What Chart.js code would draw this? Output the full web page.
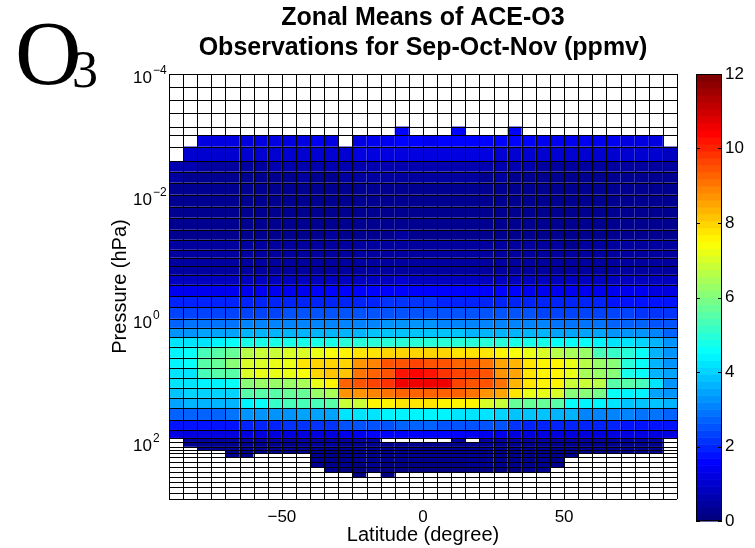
<!DOCTYPE html>
<html>
<head>
<meta charset="utf-8">
<title>Zonal Means of ACE-O3</title>
<script src="https://cdn.jsdelivr.net/npm/chart.js@4.4.0/dist/chart.umd.min.js"></script>
<style>
  html, body { margin: 0; padding: 0; background: #fff; }
  #wrap { position: relative; width: 755px; height: 548px; overflow: hidden; }
  #main { position: absolute; left: 0; top: 0; }
  #bar { position: absolute; left: 690px; top: 60px; }
</style>
</head>
<body>
<div id="wrap">
  <canvas id="main" width="755" height="548"></canvas>
  <canvas id="bar" width="65" height="475"></canvas>
</div>
<script>
const FONT = "'Liberation Sans', Arial, Helvetica, sans-serif";
const _ = null; // no observation in that bin

// latitude bin edges (degree)
const latEdges = [-90, -85, -80, -75, -70, -65, -60, -55, -50, -45, -40, -35, -30,
  -25, -20, -15, -10, -5, 0, 5, 10, 15, 20, 25, 30, 35, 40, 45, 50, 55, 60, 65, 70,
  75, 80, 85, 90];

// pressure bin edges (hPa), top of atmosphere first
const pressureEdges = [1.0e-4, 1.60e-4, 2.66e-4, 4.33e-4, 7.18e-4, 9.89e-4, 1.52e-3,
  2.63e-3, 3.89e-3, 5.89e-3, 9.24e-3, 1.45e-2, 2.19e-2, 3.44e-2, 5.01e-2, 7.29e-2,
  9.85e-2, 0.136, 0.187, 0.272, 0.418, 0.632, 0.974, 1.37, 1.95, 2.79, 4.21, 6.14,
  8.94, 13.0, 18.9, 27.6, 43.3, 63.0, 85.1, 98.9, 119, 134, 152, 174, 210, 253, 305,
  368, 444, 536, 672, 840];

// O3 mixing ratio (ppmv), one row per pressure bin, one column per latitude bin
const o3 = [
  [_,_,_,_,_,_, _,_,_,_,_,_, _,_,_,_,_,_, _,_,_,_,_,_, _,_,_,_,_,_, _,_,_,_,_,_],
  [_,_,_,_,_,_, _,_,_,_,_,_, _,_,_,_,_,_, _,_,_,_,_,_, _,_,_,_,_,_, _,_,_,_,_,_],
  [_,_,_,_,_,_, _,_,_,_,_,_, _,_,_,_,_,_, _,_,_,_,_,_, _,_,_,_,_,_, _,_,_,_,_,_],
  [_,_,_,_,_,_, _,_,_,_,_,_, _,_,_,_,_,_, _,_,_,_,_,_, _,_,_,_,_,_, _,_,_,_,_,_],
  [_,_,_,_,_,_, _,_,_,_,_,_, _,_,_,_,1.6,_, _,_,1.5,_,_,_, 1.5,_,_,_,_,_, _,_,_,_,_,_],
  [_,_,1.2,1.3,1.3,1.3, 1.3,1.3,1.3,1.3,1.4,1.3, _,1.3,1.4,1.4,1.5,1.5, 1.4,1.5,1.6,1.5,1.5,1.5, 1.6,1.5,1.4,1.4,1.4,1.4, 1.4,1.4,1.3,1.3,1.3,_],
  [_,1.1,1.0,1.0,1.0,1.0, 1.0,1.0,1.1,1.1,1.1,1.1, 1.1,1.2,1.2,1.3,1.3,1.2, 1.3,1.3,1.2,1.2,1.2,1.1, 1.1,1.1,1.0,1.0,1.0,1.0, 1.0,1.0,1.0,1.0,1.0,0.9],
  [0.6,0.6,0.55,0.55,0.55,0.55, 0.55,0.6,0.6,0.6,0.6,0.6, 0.6,0.65,0.65,0.7,0.65,0.65, 0.7,0.65,0.65,0.6,0.6,0.6, 0.6,0.6,0.55,0.55,0.55,0.55, 0.5,0.5,0.5,0.5,0.55,0.55],
  [0.4,0.35,0.35,0.3,0.3,0.35, 0.35,0.35,0.35,0.4,0.35,0.35, 0.4,0.4,0.4,0.45,0.4,0.4, 0.45,0.4,0.4,0.4,0.35,0.4, 0.35,0.35,0.35,0.35,0.35,0.3, 0.3,0.3,0.35,0.35,0.3,0.35],
  [0.35,0.3,0.3,0.3,0.25,0.3, 0.3,0.3,0.3,0.3,0.3,0.35, 0.3,0.3,0.35,0.3,0.3,0.3, 0.3,0.3,0.35,0.3,0.3,0.3, 0.3,0.3,0.25,0.3,0.3,0.3, 0.3,0.25,0.3,0.3,0.3,0.3],
  [0.3,0.25,0.25,0.25,0.2,0.25, 0.25,0.25,0.25,0.25,0.25,0.3, 0.25,0.25,0.3,0.25,0.25,0.25, 0.25,0.25,0.3,0.25,0.25,0.25, 0.25,0.25,0.2,0.25,0.25,0.25, 0.25,0.2,0.25,0.25,0.25,0.3],
  [0.25,0.25,0.2,0.25,0.25,0.25, 0.25,0.2,0.25,0.25,0.25,0.25, 0.3,0.25,0.25,0.25,0.3,0.25, 0.25,0.25,0.25,0.3,0.25,0.25, 0.25,0.2,0.25,0.25,0.25,0.25, 0.2,0.25,0.25,0.25,0.25,0.25],
  [0.3,0.3,0.3,0.25,0.3,0.3, 0.3,0.3,0.3,0.3,0.35,0.3, 0.3,0.3,0.3,0.3,0.3,0.35, 0.3,0.3,0.3,0.3,0.3,0.3, 0.3,0.3,0.3,0.25,0.3,0.3, 0.3,0.3,0.25,0.3,0.3,0.3],
  [0.35,0.35,0.35,0.3,0.35,0.35, 0.35,0.35,0.35,0.35,0.35,0.4, 0.35,0.35,0.35,0.35,0.4,0.35, 0.35,0.35,0.35,0.35,0.35,0.35, 0.35,0.35,0.35,0.3,0.35,0.35, 0.35,0.3,0.35,0.35,0.35,0.35],
  [0.45,0.45,0.4,0.4,0.4,0.4, 0.4,0.4,0.4,0.45,0.4,0.4, 0.4,0.4,0.4,0.45,0.4,0.4, 0.4,0.4,0.4,0.4,0.4,0.4, 0.4,0.4,0.4,0.4,0.35,0.4, 0.4,0.4,0.4,0.4,0.4,0.45],
  [0.5,0.5,0.45,0.45,0.45,0.45, 0.45,0.45,0.45,0.5,0.45,0.45, 0.45,0.45,0.5,0.5,0.5,0.45, 0.45,0.45,0.45,0.45,0.45,0.45, 0.45,0.45,0.45,0.45,0.45,0.45, 0.45,0.45,0.45,0.45,0.45,0.5],
  [0.5,0.5,0.5,0.45,0.45,0.5, 0.5,0.5,0.5,0.5,0.5,0.5, 0.5,0.5,0.5,0.55,0.5,0.5, 0.5,0.5,0.5,0.5,0.5,0.5, 0.5,0.5,0.45,0.45,0.45,0.45, 0.45,0.45,0.45,0.45,0.45,0.5],
  [0.45,0.45,0.45,0.45,0.45,0.45, 0.45,0.5,0.5,0.5,0.5,0.5, 0.5,0.5,0.5,0.5,0.5,0.5, 0.5,0.5,0.5,0.5,0.5,0.5, 0.45,0.45,0.45,0.45,0.45,0.45, 0.45,0.45,0.45,0.45,0.45,0.45],
  [0.8,0.8,0.8,0.8,0.8,0.8, 0.85,0.85,0.85,0.85,0.85,0.9, 0.9,0.9,0.9,0.9,0.95,0.9, 0.9,0.9,0.9,0.9,0.9,0.9, 0.85,0.85,0.85,0.85,0.8,0.8, 0.8,0.8,0.8,0.75,0.75,0.75],
  [1.4,1.4,1.4,1.4,1.4,1.4, 1.45,1.45,1.45,1.45,1.5,1.5, 1.5,1.55,1.55,1.6,1.6,1.6, 1.6,1.55,1.55,1.55,1.5,1.5, 1.5,1.45,1.45,1.45,1.4,1.4, 1.4,1.4,1.35,1.35,1.3,1.3],
  [1.9,1.9,1.9,1.9,1.9,1.95, 1.95,1.95,1.95,2.0,2.0,2.0, 2.0,2.05,2.05,2.1,2.1,2.1, 2.1,2.05,2.05,2.05,2.0,2.0, 2.0,2.0,1.95,1.95,1.9,1.9, 1.9,1.85,1.85,1.8,1.8,1.75],
  [2.3,2.3,2.35,2.35,2.35,2.4, 2.4,2.4,2.45,2.45,2.45,2.5, 2.5,2.5,2.55,2.55,2.6,2.6, 2.6,2.55,2.55,2.5,2.5,2.5, 2.45,2.45,2.4,2.4,2.4,2.35, 2.35,2.3,2.25,2.2,2.2,2.1],
  [2.8,2.85,2.9,2.9,2.95,3.0, 3.0,3.0,3.05,3.05,3.1,3.1, 3.1,3.15,3.15,3.2,3.2,3.2, 3.2,3.15,3.15,3.1,3.1,3.05, 3.05,3.0,3.0,2.95,2.95,2.9, 2.85,2.8,2.75,2.7,2.6,2.5],
  [3.3,3.35,3.4,3.45,3.5,3.6, 3.6,3.65,3.65,3.65,3.7,3.7, 3.7,3.7,3.75,3.75,3.8,3.8, 3.8,3.75,3.75,3.7,3.7,3.7, 3.65,3.6,3.6,3.55,3.5,3.5, 3.4,3.35,3.3,3.2,3.0,2.8],
  [4.2,4.2,4.3,4.4,4.5,4.7, 4.8,4.8,4.8,4.8,4.8,4.8, 4.9,4.9,5.0,5.0,5.0,5.0, 5.0,5.0,5.0,4.9,4.9,4.9, 4.8,4.8,4.7,4.6,4.6,4.5, 4.4,4.3,4.2,4.1,3.6,3.3],
  [4.4,4.5,5.3,5.5,5.7,6.6, 6.8,6.9,7.0,7.0,7.3,7.4, 7.5,7.7,7.8,7.9,7.9,7.9, 7.9,7.9,7.8,7.8,7.7,7.6, 7.4,7.2,7.0,6.7,6.5,6.2, 5.4,5.2,5.0,4.6,3.6,3.3],
  [4.4,4.5,5.6,5.8,6.0,7.0, 7.1,7.2,7.3,7.8,7.9,8.0, 8.0,8.7,8.9,9.4,9.5,9.6, 9.5,9.4,9.3,9.2,9.1,8.6, 8.4,7.8,7.6,7.5,7.3,6.6, 6.3,6.1,5.0,4.6,3.6,3.3],
  [4.2,4.3,5.3,5.5,5.6,7.0, 7.2,7.3,7.3,7.4,8.0,8.1, 8.2,9.1,9.3,9.5,10.3,10.4, 10.3,9.8,9.7,9.7,9.5,8.8, 8.5,7.8,7.6,7.5,7.2,6.4, 6.2,6.0,4.8,4.6,3.6,3.4],
  [4.2,4.3,4.4,4.4,4.5,6.0, 6.2,6.3,6.3,6.4,7.3,7.5, 9.2,9.4,9.6,9.8,10.5,10.6, 10.6,10.5,9.6,9.5,9.4,9.0, 8.3,7.7,7.6,7.5,6.9,6.8, 6.7,5.6,5.5,5.4,4.3,3.3],
  [3.9,4.0,4.0,4.1,4.1,5.5, 5.6,5.6,5.7,5.7,6.3,6.5, 8.7,8.8,8.9,9.1,9.2,9.3, 9.3,9.2,9.2,9.1,8.7,8.5, 7.7,7.3,7.2,7.1,6.0,6.0, 5.9,4.5,4.4,4.4,3.4,3.3],
  [3.5,3.6,3.6,3.7,3.7,4.4, 4.5,5.2,5.3,5.3,5.4,5.5, 6.8,6.9,7.5,7.6,7.7,7.7, 7.7,7.6,7.6,7.5,7.0,6.9, 5.8,5.8,5.7,5.6,4.5,4.4, 4.4,4.3,3.9,3.9,3.8,3.7],
  [2.7,2.8,2.8,2.8,2.9,3.2, 3.3,3.3,3.3,3.4,3.4,3.5, 4.2,4.3,4.3,4.4,4.4,4.4, 4.4,4.4,4.3,4.3,4.2,4.1, 3.8,3.8,3.8,3.7,3.7,3.0, 3.0,3.0,3.0,2.9,2.9,2.8],
  [1.7,1.7,1.7,1.8,1.8,2.0, 2.0,2.0,2.1,2.1,2.1,2.1, 2.5,2.6,2.6,2.6,2.7,2.7, 2.7,2.6,2.6,2.6,2.5,2.5, 2.1,2.0,2.0,2.0,2.0,2.0, 1.9,1.9,1.8,1.8,1.8,1.7],
  [1.3,1.2,1.2,1.2,1.2,1.2, 1.2,1.2,1.2,1.2,1.3,1.3, 1.4,1.4,1.5,1.5,1.5,1.5, 1.5,1.5,1.5,1.4,1.4,1.4, 1.3,1.3,1.3,1.2,1.2,1.2, 1.2,1.2,1.2,1.2,1.3,1.3],
  [_,0.5,0.5,0.45,0.45,0.45, 0.45,0.45,0.45,0.5,0.5,0.5, 0.5,0.5,0.5,_,_,_, _,_,0.5,_,0.5,0.5, 0.5,0.5,0.45,0.45,0.45,0.45, 0.45,0.45,0.45,0.45,0.45,_],
  [_,0.35,0.35,0.35,0.35,0.35, 0.35,0.35,0.35,0.35,0.4,0.4, 0.35,0.35,0.35,0.35,0.35,0.35, 0.35,0.35,0.35,0.35,0.35,0.35, 0.35,0.35,0.35,0.35,0.35,0.35, 0.35,0.35,0.35,0.35,0.35,_],
  [_,_,0.3,0.3,0.3,0.3, 0.3,0.3,0.3,0.3,0.35,0.35, 0.3,0.3,0.3,0.3,0.3,0.3, 0.3,0.3,0.3,0.3,0.3,0.3, 0.3,0.3,0.3,0.3,0.3,0.3, 0.3,0.3,0.3,0.3,0.3,_],
  [_,_,_,_,0.3,0.3, 0.3,0.3,0.3,0.3,0.3,0.35, 0.3,0.25,0.3,0.25,0.25,0.25, 0.25,0.25,0.25,0.25,0.25,0.3, 0.3,0.3,0.3,0.3,0.3,0.3, 0.3,0.3,0.3,0.3,0.3,_],
  [_,_,_,_,0.25,0.25, _,_,_,_,0.3,0.3, 0.25,0.25,0.25,0.25,0.2,0.2, 0.2,0.2,0.25,0.25,0.25,0.25, 0.25,0.25,0.25,0.25,0.25,_, _,_,_,_,_,_],
  [_,_,_,_,_,_, _,_,_,_,0.25,0.25, 0.2,0.2,0.2,0.2,0.2,0.2, 0.2,0.2,0.2,0.2,0.2,0.2, 0.25,0.25,0.25,0.25,_,_, _,_,_,_,_,_],
  [_,_,_,_,_,_, _,_,_,_,0.2,0.25, 0.2,0.15,0.2,0.15,0.15,0.15, 0.15,0.15,0.15,0.2,0.2,0.2, 0.2,0.2,0.2,0.2,_,_, _,_,_,_,_,_],
  [_,_,_,_,_,_, _,_,_,_,_,0.2, 0.15,0.15,0.15,0.15,0.15,0.15, 0.15,0.15,0.15,0.15,0.15,0.15, 0.15,0.2,0.2,_,_,_, _,_,_,_,_,_],
  [_,_,_,_,_,_, _,_,_,_,_,_, _,0.15,_,0.15,_,_, _,_,_,_,_,_, _,_,_,_,_,_, _,_,_,_,_,_],
  [_,_,_,_,_,_, _,_,_,_,_,_, _,_,_,_,_,_, _,_,_,_,_,_, _,_,_,_,_,_, _,_,_,_,_,_],
  [_,_,_,_,_,_, _,_,_,_,_,_, _,_,_,_,_,_, _,_,_,_,_,_, _,_,_,_,_,_, _,_,_,_,_,_],
  [_,_,_,_,_,_, _,_,_,_,_,_, _,_,_,_,_,_, _,_,_,_,_,_, _,_,_,_,_,_, _,_,_,_,_,_],
  [_,_,_,_,_,_, _,_,_,_,_,_, _,_,_,_,_,_, _,_,_,_,_,_, _,_,_,_,_,_, _,_,_,_,_,_]
];

const xTicks = [-50, 0, 50];
const yTicks = [1e-4, 1e-2, 1, 1e2];
const cbTicks = [0, 2, 4, 6, 8, 10, 12];
const cMin = 0, cMax = 12, nColors = 64;

// matlab style jet colormap, 64 levels
function jetLevel(k) {
  const t = k / (nColors - 1);
  const c = a => Math.round(255 * Math.max(0, Math.min(1, 1.5 - Math.abs(4 * t - a))));
  return 'rgb(' + c(3) + ',' + c(2) + ',' + c(1) + ')';
}
function jet(v) {
  let k = Math.floor((v - cMin) / (cMax - cMin) * nColors);
  k = Math.max(0, Math.min(nColors - 1, k));
  return jetLevel(k);
}

// pcolor style cells with black edges
const cells = {
  id: 'cells',
  beforeDatasetsDraw(chart) {
    const {ctx, scales: {x, y}} = chart;
    ctx.save();
    for (let r = 0; r < o3.length; r++) {
      const y0 = y.getPixelForValue(pressureEdges[r]);
      const y1 = y.getPixelForValue(pressureEdges[r + 1]);
      for (let c = 0; c < latEdges.length - 1; c++) {
        const x0 = x.getPixelForValue(latEdges[c]);
        const x1 = x.getPixelForValue(latEdges[c + 1]);
        const v = o3[r][c];
        ctx.fillStyle = v === null ? '#ffffff' : jet(v);
        ctx.fillRect(x0, y0, x1 - x0, y1 - y0);
      }
    }
    const xl = x.getPixelForValue(latEdges[0]), xr = x.getPixelForValue(latEdges[latEdges.length - 1]);
    const yt = y.getPixelForValue(pressureEdges[0]), yb = y.getPixelForValue(pressureEdges[pressureEdges.length - 1]);
    ctx.beginPath();
    pressureEdges.forEach(p => {
      const py = Math.round(y.getPixelForValue(p)) + 0.5;
      ctx.moveTo(xl, py); ctx.lineTo(xr, py);
    });
    latEdges.forEach(l => {
      const px = Math.round(x.getPixelForValue(l)) + 0.5;
      ctx.moveTo(px, yt); ctx.lineTo(px, yb);
    });
    ctx.lineWidth = 1;
    ctx.strokeStyle = '#000';
    ctx.stroke();
    ctx.restore();
  }
};

// 10^n labels for the pressure axis, plus the figure titles
const labels = {
  id: 'labels',
  afterDraw(chart) {
    const {ctx, chartArea, scales: {y}} = chart;
    ctx.save();
    ctx.fillStyle = '#000';
    ctx.textBaseline = 'alphabetic';
    ctx.textAlign = 'left';
    y.ticks.forEach(t => {
      const py = y.getPixelForValue(t.value);
      const e = Math.round(Math.log10(t.value));
      const exp = e < 0 ? '\u2212' + (-e) : String(e);
      ctx.font = '17px ' + FONT;
      const bw = ctx.measureText('10').width;
      ctx.fillText('10', chartArea.left - 17 - bw, py + 8.5);
      ctx.font = '12px ' + FONT;
      ctx.fillText(exp, chartArea.left - 16, py - 0.5);
    });

    const cx = (chartArea.left + chartArea.right) / 2;
    ctx.textAlign = 'center';
    ctx.font = 'bold 25px ' + FONT;
    ctx.fillText('Zonal Means of ACE-O3', cx, 25);
    ctx.fillText('Observations for Sep-Oct-Nov (ppmv)', cx, 55);

    ctx.textAlign = 'left';
    ctx.font = "92px 'Liberation Serif', 'Times New Roman', serif";
    ctx.fillText('O', 15, 84);
    ctx.font = "52px 'Liberation Serif', 'Times New Roman', serif";
    ctx.fillText('3', 72, 87);
    ctx.restore();
  }
};

new Chart(document.getElementById('main'), {
  type: 'scatter',
  data: { datasets: [{ data: [] }] },
  options: {
    responsive: false,
    animation: false,
    events: [],
    layout: { padding: { left: 100, right: 78, top: 74, bottom: 0 } },
    plugins: { legend: { display: false }, tooltip: { enabled: false } },
    scales: {
      x: {
        type: 'linear', min: -90, max: 90,
        afterBuildTicks: s => { s.ticks = xTicks.map(v => ({ value: v })); },
        afterFit: s => { s.height = 49; },
        grid: { display: false, drawTicks: false },
        border: { display: false },
        ticks: {
          padding: 8, color: '#000', maxRotation: 0, autoSkip: false,
          font: { family: FONT, size: 17 },
          callback: v => v < 0 ? '\u2212' + (-v) : String(v)
        },
        title: {
          display: true, text: 'Latitude (degree)', color: '#000',
          font: { family: FONT, size: 20 }, padding: { top: 0, bottom: 1 }
        }
      },
      y: {
        type: 'logarithmic', reverse: true, min: 1e-4, max: 840,
        afterBuildTicks: s => { s.ticks = yTicks.map(v => ({ value: v })); },
        afterFit: s => { s.width = 69; },
        grid: { display: false, drawTicks: false },
        border: { display: false },
        ticks: { display: false },
        title: {
          display: true, text: 'Pressure (hPa)', color: '#000',
          font: { family: FONT, size: 20 }, padding: { top: 8, bottom: 0 }
        }
      }
    }
  },
  plugins: [cells, labels]
});

// colour bar
const colorBands = {
  id: 'colorBands',
  beforeDatasetsDraw(chart) {
    const {ctx, chartArea: {left, right, top, bottom}, scales: {y}} = chart;
    ctx.save();
    for (let k = 0; k < nColors; k++) {
      const v0 = cMin + k * (cMax - cMin) / nColors;
      const v1 = cMin + (k + 1) * (cMax - cMin) / nColors;
      const p0 = y.getPixelForValue(v1), p1 = y.getPixelForValue(v0);
      ctx.fillStyle = jetLevel(k);
      ctx.fillRect(left, p0, right - left, p1 - p0 + 0.6);
    }
    ctx.beginPath();
    ctx.rect(Math.round(left) + 0.5, Math.round(top) + 0.5, Math.round(right - left) - 1, Math.round(bottom - top) - 1);
    cbTicks.forEach(v => {
      const py = Math.round(y.getPixelForValue(v)) + 0.5;
      ctx.moveTo(left, py); ctx.lineTo(left + 4, py);
      ctx.moveTo(right - 4, py); ctx.lineTo(right, py);
    });
    ctx.lineWidth = 1;
    ctx.strokeStyle = '#000';
    ctx.stroke();
    ctx.restore();
  }
};

new Chart(document.getElementById('bar'), {
  type: 'scatter',
  data: { datasets: [{ data: [] }] },
  options: {
    responsive: false,
    animation: false,
    events: [],
    layout: { padding: { left: 6, right: 0, top: 14, bottom: 14 } },
    plugins: { legend: { display: false }, tooltip: { enabled: false } },
    scales: {
      x: { display: false, min: 0, max: 1 },
      y: {
        position: 'right', min: cMin, max: cMax,
        afterBuildTicks: s => { s.ticks = cbTicks.map(v => ({ value: v })); },
        afterFit: s => { s.width = 33; },
        grid: { display: false, drawTicks: false },
        border: { display: false },
        ticks: { padding: 3, color: '#000', font: { family: FONT, size: 17 } }
      }
    }
  },
  plugins: [colorBands]
});
</script>
</body>
</html>
